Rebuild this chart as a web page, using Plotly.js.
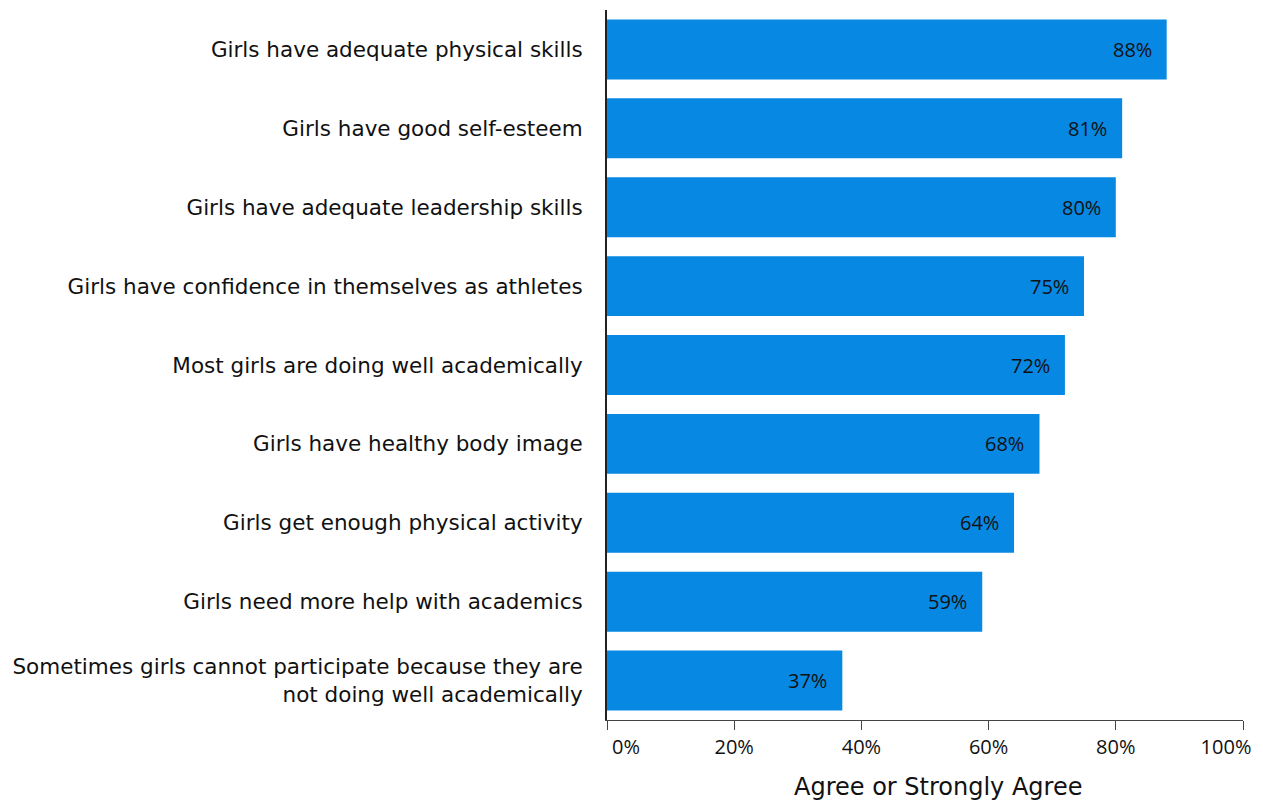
<!DOCTYPE html>
<html>
<head>
<meta charset="utf-8">
<script src="https://cdn.plot.ly/plotly-3.0.1.min.js"></script>
<style>html,body{margin:0;padding:0;background:#fff;}#chart{width:1263px;height:804px;}</style>
</head>
<body>
<div id="chart"></div>
<script>
const categories = [
  "Girls have adequate physical skills",
  "Girls have good self-esteem",
  "Girls have adequate leadership skills",
  "Girls have confidence in themselves as athletes",
  "Most girls are doing well academically",
  "Girls have healthy body image",
  "Girls get enough physical activity",
  "Girls need more help with academics",
  "Sometimes girls cannot participate because they are<br>not doing well academically"
];
const values = [88, 81, 80, 75, 72, 68, 64, 59, 37];
const tickVals = [0, 20, 40, 60, 80, 100];
const tickText = ["0%", "20%", "40%", "60%", "80%", "100%"];
const xTitle = "Agree or Strongly Agree";

const LABEL_FONT = "'DejaVu Sans', sans-serif";
const NUM_FONT = "'Open Sans', sans-serif";

const trace = {
  type: "bar",
  orientation: "h",
  y: categories,
  x: values,
  marker: {color: "#0788E3"},
  width: 0.76,
  hoverinfo: "none"
};
// empty helper traces so the end-tick overlay axes are drawn
const helper2 = {type: "scatter", x: [], y: [], xaxis: "x2", yaxis: "y", hoverinfo: "none", showlegend: false};
const helper3 = {type: "scatter", x: [], y: [], xaxis: "x3", yaxis: "y", hoverinfo: "none", showlegend: false};

const annotations = values.map((v, i) => ({
  x: v, y: categories[i], xref: "x", yref: "y",
  text: v + "%", showarrow: false, xanchor: "right", xshift: -13,
  font: {family: NUM_FONT, size: 20, color: "#111"}
}));
annotations.push({
  text: xTitle, xref: "paper", yref: "paper", x: 0.5204, y: 0,
  xanchor: "center", yanchor: "middle", yshift: -67, showarrow: false,
  font: {family: LABEL_FONT, size: 24, color: "#111"}
});

const tickFont = {family: NUM_FONT, size: 20, color: "#111"};
const endAxis = (idx, shift) => ({
  overlaying: "x", anchor: "y", side: "bottom",
  range: [0, 100], tickvals: [tickVals[idx]], ticktext: [tickText[idx]],
  ticklabelshift: shift, ticks: "outside", ticklen: 9, tickcolor: "rgba(0,0,0,0)",
  showline: false, showgrid: false, zeroline: false,
  ticklabeloverflow: "allow", tickfont: tickFont
});

const layout = {
  width: 1263, height: 804,
  margin: {l: 607, r: 20, t: 10, b: 84},
  paper_bgcolor: "#fff", plot_bgcolor: "#fff",
  showlegend: false,
  font: {family: NUM_FONT, color: "#111"},
  xaxis: {
    range: [0, 100], tickvals: tickVals,
    ticktext: tickText.map((t, i) => (i === 0 || i === tickText.length - 1) ? "" : t),
    showgrid: false, zeroline: false,
    showline: true, linecolor: "#444", linewidth: 1,
    ticks: "outside", ticklen: 9, tickcolor: "#444",
    tickfont: tickFont
  },
  xaxis2: endAxis(0, 19),
  xaxis3: endAxis(5, -17),
  yaxis: {
    autorange: "reversed",
    showgrid: false, zeroline: false,
    showline: true, linecolor: "#222", linewidth: 2,
    ticks: "", ticklabelstandoff: 18,
    tickfont: {family: LABEL_FONT, size: 21.5, color: "#111"}
  },
  annotations: annotations
};

Plotly.newPlot("chart", [trace, helper2, helper3], layout, {displayModeBar: false, staticPlot: true});
</script>
</body>
</html>
